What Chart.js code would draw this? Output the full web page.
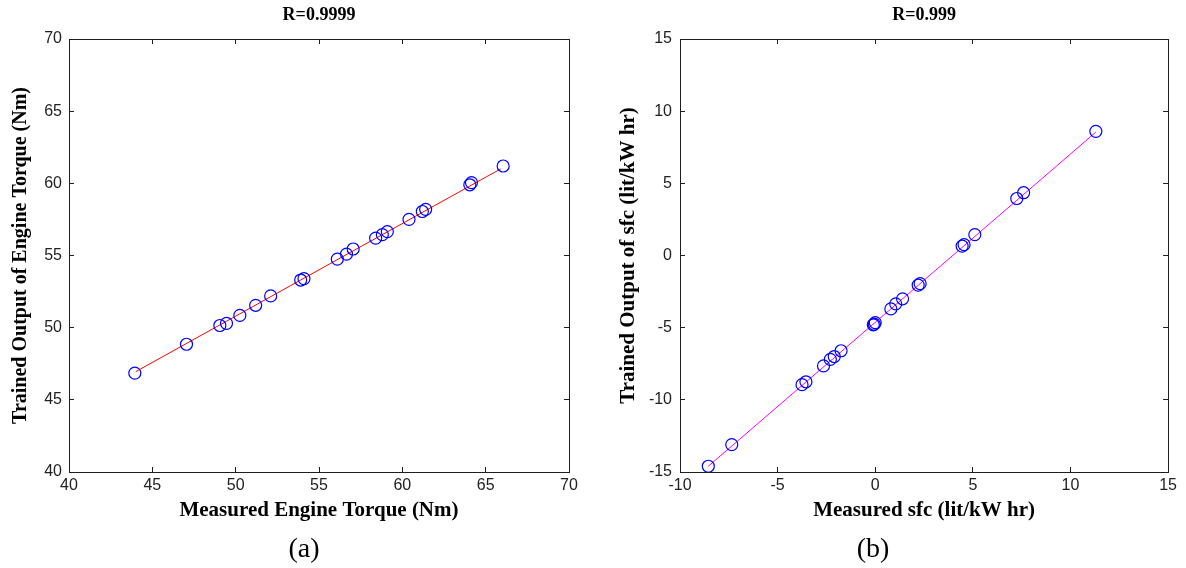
<!DOCTYPE html>
<html>
<head>
<meta charset="utf-8">
<script src="https://cdn.jsdelivr.net/npm/chart.js@4.4.1/dist/chart.umd.min.js"></script>
<style>
html, body { margin: 0; padding: 0; background: #fff; width: 1186px; height: 568px; overflow: hidden; }
.wrap { position: absolute; top: 0; }
.cap { position: absolute; font-family: "Liberation Serif", "Times New Roman", serif; font-size: 28px; color: #000;
       transform: translate(-50%, -50%); white-space: nowrap; line-height: 1; }
</style>
</head>
<body>
<div class="wrap" style="left:0;width:600px;height:568px"><canvas id="c1" width="600" height="568"></canvas></div>
<div class="wrap" style="left:600px;width:586px;height:568px"><canvas id="c2" width="586" height="568"></canvas></div>
<div class="cap" style="left:304px;top:548px">(a)</div>
<div class="cap" style="left:873px;top:548px">(b)</div>
<script>
// ---- Panel (a): Engine torque ----
const torqueMeasured = [43.95, 47.05, 49.05, 49.45, 50.25, 51.2, 52.1, 53.9, 54.1, 56.1, 56.65, 57.05, 58.4, 58.8, 59.1, 60.4, 61.2, 61.4, 64.05, 64.15, 66.05];
const torqueTrained  = [46.85, 48.85, 50.15, 50.3, 50.85, 51.55, 52.2, 53.3, 53.4, 54.75, 55.1, 55.45, 56.2, 56.45, 56.65, 57.5, 58.05, 58.2, 59.9, 60.05, 61.2];
const torqueFitX = [44.0, 65.9];
const torqueFitY = [46.95, 61.0];
const torqueXTicks = [40, 45, 50, 55, 60, 65, 70];
const torqueYTicks = [40, 45, 50, 55, 60, 65, 70];

// ---- Panel (b): sfc ----
const sfcMeasured = [-8.55, -7.35, -3.75, -3.55, -2.65, -2.3, -2.1, -1.75, -0.1, -0.05, 0.0, 0.8, 1.05, 1.4, 2.2, 2.3, 4.45, 4.55, 5.1, 7.25, 7.6, 11.3];
const sfcTrained  = [-14.6, -13.1, -8.95, -8.75, -7.65, -7.2, -7.0, -6.6, -4.8, -4.75, -4.65, -3.7, -3.35, -3.0, -2.05, -1.95, 0.65, 0.75, 1.45, 3.95, 4.35, 8.6];
const sfcFitX = [-8.55, 11.3];
const sfcFitY = [-14.6, 8.55];
const sfcXTicks = [-10, -5, 0, 5, 10, 15];
const sfcYTicks = [-15, -10, -5, 0, 5, 10, 15];

const FONT_SANS = "'Liberation Sans', Arial, sans-serif";
const FONT_SERIF = "'Liberation Serif', 'Times New Roman', serif";
const AXIS_COLOR = '#1e1e1e';

function tickList(arr) { return s => { s.ticks = arr.map(v => ({ value: v })); }; }

function buildChart(id, o) {
  const pts = o.x.map((v, i) => ({ x: v, y: o.y[i] }));
  const fit = o.fitX.map((v, i) => ({ x: v, y: o.fitY[i] }));
  const grid = { display: true, drawOnChartArea: false, drawTicks: true, tickLength: -5, color: AXIS_COLOR, lineWidth: 1 };
  const border = { display: true, color: AXIS_COLOR, width: 1 };
  const xMin = o.xTicks[0], xMax = o.xTicks[o.xTicks.length - 1];
  const yMin = o.yTicks[0], yMax = o.yTicks[o.yTicks.length - 1];
  return new Chart(document.getElementById(id), {
    type: 'scatter',
    data: {
      datasets: [
        { data: pts, showLine: false, pointStyle: 'circle', pointRadius: 6, pointHoverRadius: 6,
          borderColor: '#0000ff', pointBorderWidth: 1.2, backgroundColor: 'rgba(0,0,0,0)', xAxisID: 'x', yAxisID: 'y' },
        { data: fit, showLine: true, borderColor: o.lineColor, borderWidth: 1, pointRadius: 0, pointHoverRadius: 0,
          backgroundColor: o.lineColor, xAxisID: 'x', yAxisID: 'y' }
      ]
    },
    options: {
      responsive: false,
      animation: false,
      events: [],
      layout: { padding: { top: 0, left: 0, right: o.padRight, bottom: 40 } },
      plugins: {
        legend: { display: false },
        tooltip: { enabled: false },
        title: { display: true, text: o.title, fullSize: false, color: '#000',
                 font: { family: FONT_SERIF, size: 18, weight: 'bold' }, padding: { top: 5, bottom: 12.4 } }
      },
      scales: {
        x: {
          type: 'linear', position: 'bottom', min: xMin, max: xMax,
          afterBuildTicks: tickList(o.xTicks),
          afterFit: s => { s.height = 56; },
          grid: grid, border: border,
          ticks: { color: '#222', padding: 9, font: { family: FONT_SANS, size: 16 }, maxRotation: 0, autoSkip: false },
          title: { display: true, text: o.xTitle, color: '#000',
                   font: { family: FONT_SERIF, size: 21, weight: 'bold' }, padding: { top: 0, bottom: 5 } }
        },
        y: {
          type: 'linear', position: 'left', min: yMin, max: yMax,
          afterBuildTicks: tickList(o.yTicks),
          afterFit: s => { s.width = o.yWidth; },
          grid: grid, border: border,
          ticks: { color: '#222', padding: o.yTickPad, font: { family: FONT_SANS, size: 16 }, autoSkip: false },
          title: { display: true, text: o.yTitle, color: '#000',
                   font: { family: FONT_SERIF, size: o.yTitleSize, weight: 'bold' }, padding: { top: o.yTitlePad, bottom: 0 } }
        },
        x2: {
          type: 'linear', position: 'top', min: xMin, max: xMax,
          afterBuildTicks: tickList(o.xTicks),
          afterFit: s => { s.height = 0; },
          grid: grid, border: border,
          ticks: { display: false }
        },
        y2: {
          type: 'linear', position: 'right', min: yMin, max: yMax,
          afterBuildTicks: tickList(o.yTicks),
          afterFit: s => { s.width = 0; },
          grid: grid, border: border,
          ticks: { display: false }
        }
      }
    }
  });
}

buildChart('c1', {
  x: torqueMeasured, y: torqueTrained, fitX: torqueFitX, fitY: torqueFitY,
  xTicks: torqueXTicks, yTicks: torqueYTicks, lineColor: '#ff0000',
  title: 'R=0.9999', xTitle: 'Measured Engine Torque (Nm)', yTitle: 'Trained Output of Engine Torque (Nm)',
  yWidth: 69, yTickPad: 12, yTitlePad: 9, yTitleSize: 20, padRight: 31
});

buildChart('c2', {
  x: sfcMeasured, y: sfcTrained, fitX: sfcFitX, fitY: sfcFitY,
  xTicks: sfcXTicks, yTicks: sfcYTicks, lineColor: '#ff00ff',
  title: 'R=0.999', xTitle: 'Measured sfc (lit/kW hr)', yTitle: 'Trained Output of sfc (lit/kW hr)',
  yWidth: 80, yTickPad: 13, yTitlePad: 16, yTitleSize: 21, padRight: 17
});
</script>
</body>
</html>
